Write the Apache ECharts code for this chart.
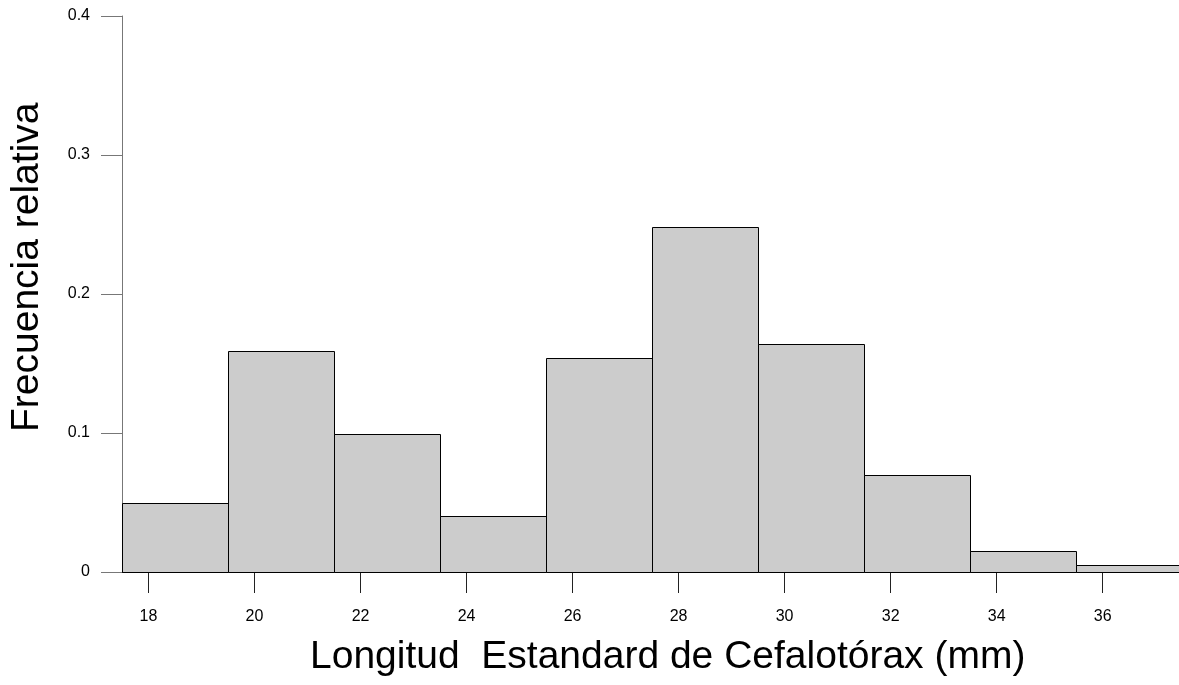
<!DOCTYPE html>
<html>
<head>
<meta charset="utf-8">
<script src="https://cdn.jsdelivr.net/npm/echarts@6/dist/echarts.min.js"></script>
<style>
  html, body { margin: 0; padding: 0; background: #fff; }
  #main { width: 1179px; height: 685px; }
</style>
</head>
<body>
<div id="main"></div>
<script>
// histogram bins (mm), width 2
var binStarts = [17.5, 19.5, 21.5, 23.5, 25.5, 27.5, 29.5, 31.5, 33.5, 35.5];
var binWidth = 2;
var freqs = [0.05, 0.159, 0.099, 0.04, 0.154, 0.248, 0.164, 0.07, 0.015, 0.005];
var xTicks = [18, 20, 22, 24, 26, 28, 30, 32, 34, 36];
var yTicks = [0, 0.1, 0.2, 0.3, 0.4];

var barData = [];
for (var i = 0; i < binStarts.length; i++) {
  barData.push([binStarts[i], binStarts[i] + binWidth, freqs[i]]);
}

var font = 'Liberation Sans, Arial, sans-serif';

var myChart = echarts.init(document.getElementById('main'));
var option = {
  animation: false,
  backgroundColor: '#fff',
  grid: { left: 122, right: 0, top: 16, bottom: 113 },
  xAxis: {
    type: 'value',
    min: 17.5,
    max: 37.44,
    axisLine: { show: true, lineStyle: { color: '#000', width: 1 } },
    axisTick: {
      show: true, length: 21, inside: false,
      customValues: xTicks,
      lineStyle: { color: '#222', width: 1 }
    },
    axisLabel: {
      customValues: xTicks,
      margin: 37,
      color: '#000',
      fontSize: 16,
      fontFamily: font
    },
    splitLine: { show: false }
  },
  yAxis: {
    type: 'value',
    min: 0,
    max: 0.4,
    interval: 0.1,
    axisLine: { show: true, lineStyle: { color: '#777', width: 1 } },
    axisTick: { show: true, length: 21, lineStyle: { color: '#777', width: 1 } },
    axisLabel: {
      margin: 32,
      color: '#000',
      fontSize: 16,
      fontFamily: font,
      formatter: function (v) { return yTicks.indexOf(Math.round(v * 10) / 10) >= 0 ? String(Math.round(v * 10) / 10) : ''; }
    },
    splitLine: { show: false }
  },
  graphic: [
    {
      type: 'text',
      left: 310, top: 638,
      style: {
        text: 'Longitud  Estandard de Cefalotórax (mm)',
        font: '39px ' + font,
        fill: '#000'
      }
    },
    {
      type: 'text',
      x: 8, y: 432,
      rotation: Math.PI / 2,
      style: {
        text: 'Frecuencia relativa',
        font: '39px ' + font,
        fill: '#000',
        textAlign: 'left',
        textVerticalAlign: 'top'
      }
    }
  ],
  series: [{
    type: 'custom',
    data: barData,
    encode: { x: [0, 1], y: 2 },
    clip: false,
    renderItem: function (params, api) {
      var p0 = api.coord([api.value(0), api.value(2)]);
      var p1 = api.coord([api.value(1), 0]);
      return {
        type: 'rect',
        shape: {
          x: Math.round(p0[0]) + 0.5,
          y: Math.round(p0[1]) + 0.5,
          width: Math.round(p1[0]) - Math.round(p0[0]),
          height: Math.round(p1[1]) - Math.round(p0[1])
        },
        style: { fill: '#cccccc', stroke: '#000', lineWidth: 1 }
      };
    }
  }]
};
myChart.setOption(option);
</script>
</body>
</html>
